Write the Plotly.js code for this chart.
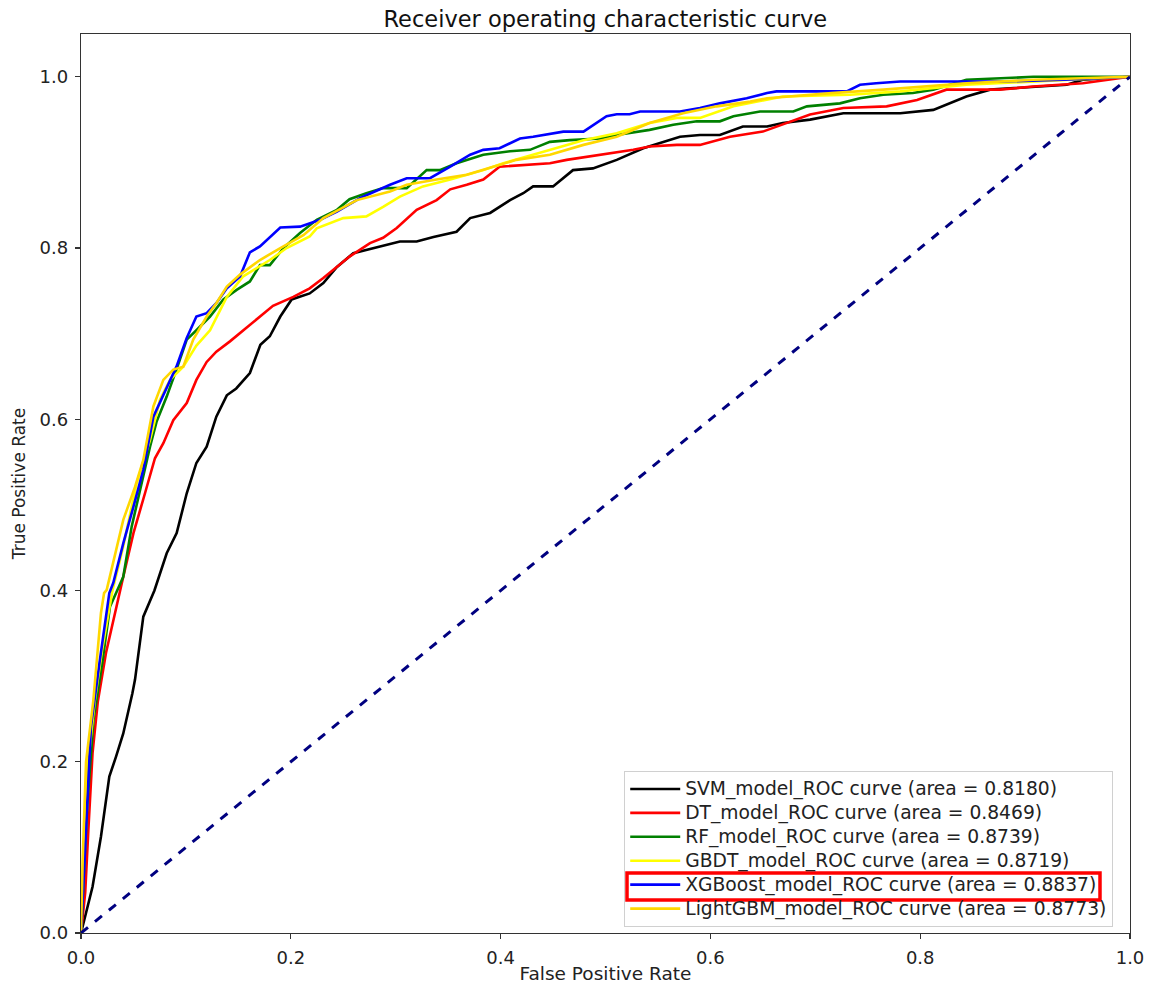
<!DOCTYPE html>
<html>
<head>
<meta charset="utf-8">
<script src="https://cdn.plot.ly/plotly-3.0.1.min.js"></script>
<style>html,body{margin:0;padding:0;background:#fff;}#chart{width:1158px;height:984px;}</style>
</head>
<body>
<div id="chart"></div>
<script>
// ---- data ----
const svmFpr = [0,0.011,0.019,0.027,0.0334,0.0403,0.049,0.0515,0.0594,0.07,0.0817,0.0912,0.1008,0.110,0.1198,0.129,0.139,0.148,0.161,0.171,0.180,0.190,0.2008,0.218,0.231,0.244,0.2596,0.2755,0.288,0.304,0.320,0.336,0.358,0.371,0.390,0.409,0.4216,0.431,0.450,0.469,0.488,0.5107,0.536,0.571,0.590,0.609,0.631,0.654,0.669,0.695,0.7267,0.781,0.8125,0.828,0.844,0.8666,0.9397,0.955,1];
const svmTpr = [0,0.054,0.1125,0.1826,0.206,0.233,0.28,0.296,0.3695,0.40,0.4435,0.467,0.5136,0.549,0.568,0.603,0.628,0.636,0.654,0.687,0.697,0.720,0.740,0.747,0.759,0.778,0.794,0.7987,0.802,0.8076,0.8076,0.813,0.819,0.835,0.841,0.856,0.864,0.872,0.872,0.891,0.893,0.903,0.9166,0.930,0.932,0.932,0.942,0.942,0.946,0.950,0.9575,0.9575,0.9614,0.969,0.977,0.985,0.9907,0.9965,1];

const dtFpr = [0,0.004,0.007,0.011,0.016,0.0238,0.0403,0.050,0.061,0.0705,0.0785,0.088,0.1008,0.110,0.1198,0.129,0.142,0.1547,0.1706,0.183,0.2024,0.218,0.231,0.244,0.256,0.2755,0.288,0.301,0.320,0.339,0.352,0.3677,0.3835,0.399,0.425,0.447,0.463,0.4948,0.5265,0.542,0.568,0.590,0.6187,0.650,0.673,0.695,0.7267,0.768,0.797,0.825,0.876,0.9076,0.955,1];
const dtTpr = [0,0.047,0.12,0.21,0.27,0.327,0.416,0.467,0.5136,0.5545,0.572,0.599,0.619,0.646,0.667,0.679,0.691,0.704,0.720,0.7325,0.743,0.753,0.765,0.778,0.790,0.8057,0.812,0.8235,0.8446,0.856,0.8686,0.874,0.880,0.895,0.897,0.899,0.903,0.909,0.9147,0.9186,0.9205,0.9205,0.930,0.936,0.946,0.956,0.9635,0.9655,0.973,0.985,0.985,0.9886,0.9925,1];

const rfFpr = [0,0.002,0.006,0.012,0.0207,0.0276,0.0334,0.0403,0.0483,0.0578,0.0658,0.072,0.0817,0.091,0.1008,0.110,0.123,0.1357,0.1484,0.161,0.1706,0.180,0.193,0.2088,0.2247,0.244,0.256,0.272,0.288,0.3105,0.3295,0.342,0.358,0.3835,0.409,0.428,0.447,0.466,0.4948,0.5107,0.5297,0.542,0.5646,0.587,0.609,0.622,0.6473,0.679,0.692,0.7235,0.7426,0.7648,0.793,0.8125,0.844,0.908,1];
const rfTpr = [0,0.05,0.15,0.25,0.319,0.381,0.397,0.416,0.4746,0.525,0.568,0.597,0.6265,0.658,0.693,0.704,0.720,0.740,0.7512,0.761,0.780,0.780,0.800,0.8175,0.833,0.8446,0.857,0.864,0.870,0.870,0.891,0.891,0.899,0.909,0.913,0.9147,0.924,0.926,0.928,0.932,0.936,0.938,0.944,0.948,0.948,0.954,0.9595,0.9595,0.9655,0.969,0.975,0.979,0.981,0.985,0.9965,1.0,1];

const gbdtFpr = [0,0.002,0.006,0.013,0.02,0.03,0.04,0.053,0.0658,0.0753,0.0848,0.0975,0.110,0.123,0.139,0.1547,0.180,0.196,0.218,0.2247,0.250,0.272,0.288,0.304,0.326,0.352,0.3835,0.4026,0.425,0.447,0.479,0.5107,0.542,0.568,0.590,0.622,0.669,0.733,0.781,0.844,1];
const gbdtTpr = [0,0.08,0.19,0.27,0.33,0.40,0.45,0.525,0.576,0.623,0.646,0.6615,0.686,0.704,0.743,0.767,0.786,0.800,0.8135,0.823,0.835,0.837,0.848,0.860,0.872,0.880,0.891,0.899,0.907,0.9147,0.926,0.934,0.946,0.952,0.952,0.9655,0.977,0.979,0.983,0.9907,1];

const xgbFpr = [0,0.0022,0.0095,0.018,0.0213,0.027,0.0308,0.0403,0.050,0.0594,0.069,0.0817,0.091,0.1008,0.110,0.1198,0.129,0.139,0.1516,0.161,0.1706,0.190,0.2088,0.228,0.244,0.266,0.2946,0.3105,0.3327,0.352,0.371,0.3835,0.399,0.4185,0.431,0.4598,0.479,0.501,0.5107,0.523,0.533,0.571,0.590,0.609,0.6346,0.654,0.663,0.730,0.7426,0.758,0.781,0.876,0.937,1];
const xgbTpr = [0,0.058,0.241,0.319,0.350,0.397,0.409,0.455,0.498,0.541,0.603,0.638,0.6615,0.695,0.720,0.724,0.7356,0.753,0.7667,0.795,0.802,0.824,0.825,0.833,0.8426,0.8584,0.874,0.8816,0.8816,0.895,0.909,0.9147,0.9166,0.928,0.930,0.936,0.936,0.954,0.9563,0.9563,0.9595,0.9595,0.9635,0.969,0.975,0.981,0.983,0.983,0.9907,0.9925,0.9945,0.9945,0.9965,1];

const lgbFpr = [0,0.0016,0.0048,0.0118,0.019,0.022,0.0245,0.0403,0.0515,0.0594,0.069,0.0785,0.088,0.0975,0.107,0.1198,0.129,0.139,0.1516,0.1706,0.190,0.212,0.231,0.2405,0.263,0.2946,0.3105,0.339,0.3677,0.393,0.415,0.447,0.479,0.5107,0.542,0.574,0.606,0.638,0.654,0.7155,0.765,0.844,0.908,1];
const lgbTpr = [0,0.085,0.2,0.272,0.3735,0.397,0.4007,0.4825,0.521,0.5525,0.615,0.646,0.658,0.6615,0.693,0.720,0.7356,0.755,0.769,0.786,0.800,0.815,0.835,0.841,0.856,0.866,0.874,0.880,0.8856,0.895,0.903,0.909,0.9205,0.930,0.946,0.9575,0.9655,0.971,0.975,0.981,0.985,0.9925,0.9965,1];

const diagX = [0, 1];
const diagY = [0, 1];

const seriesNames = [
  "SVM_model_ROC curve (area = 0.8180)",
  "DT_model_ROC curve (area = 0.8469)",
  "RF_model_ROC curve (area = 0.8739)",
  "GBDT_model_ROC curve (area = 0.8719)",
  "XGBoost_model_ROC curve (area = 0.8837)",
  "LightGBM_model_ROC curve (area = 0.8773)"
];
const seriesColors = ["#000000", "#ff0000", "#008000", "#ffff00", "#0000ff", "#ffd700"];
const xs = [svmFpr, dtFpr, rfFpr, gbdtFpr, xgbFpr, lgbFpr];
const ys = [svmTpr, dtTpr, rfTpr, gbdtTpr, xgbTpr, lgbTpr];

const tickVals = [0, 0.2, 0.4, 0.6, 0.8, 1.0];
const tickText = ["0.0", "0.2", "0.4", "0.6", "0.8", "1.0"];

const FONT = "DejaVu Sans, sans-serif";
const LEGEND_TEXT_PX = 18.7;

const traces = xs.map((x, i) => ({
  type: "scatter", mode: "lines", x: x, y: ys[i],
  name: '<span style="font-size:' + LEGEND_TEXT_PX + 'px">' + seriesNames[i] + '</span>',
  line: { color: seriesColors[i], width: 2.6 }
}));
traces.push({
  type: "scatter", mode: "lines", x: diagX, y: diagY, showlegend: false,
  line: { color: "#000080", width: 3, dash: "dash" }
});

const axisCommon = {
  showgrid: false, zeroline: false, showline: true, mirror: true,
  linecolor: "#333333", linewidth: 1.2,
  ticks: "outside", ticklen: 5, tickwidth: 1.2, tickcolor: "#333333",
  ticklabelstandoff: 3,
  tickvals: tickVals, ticktext: tickText,
  tickfont: { family: FONT, size: 18, color: "#222" }
};

const layout = {
  width: 1158, height: 984,
  margin: { l: 81, r: 28, t: 34, b: 51, pad: 0 },
  paper_bgcolor: "#ffffff", plot_bgcolor: "#ffffff",
  title: { text: "Receiver operating characteristic curve", x: 0.5227, xanchor: "center", y: 0.981, yanchor: "middle",
           font: { family: FONT, size: 22.5, color: "#111" } },
  xaxis: Object.assign({}, axisCommon, { range: [0, 1],
    title: { text: "False Positive Rate", standoff: 3, font: { family: FONT, size: 18.5, color: "#222" } } }),
  yaxis: Object.assign({}, axisCommon, { range: [0, 1.05],
    title: { text: "True Positive Rate", standoff: 9, font: { family: FONT, size: 17, color: "#222" } } }),
  showlegend: true,
  legend: {
    x: 0.984, xanchor: "right", y: 0.0067, yanchor: "bottom",
    bgcolor: "rgba(255,255,255,0)", bordercolor: "#d0d0d0", borderwidth: 1,
    font: { family: FONT, size: 16.1, color: "#222" },
    itemwidth: 50,
    tracegroupgap: 0
  },
  shapes: [{
    type: "rect", xref: "paper", yref: "paper", layer: "above",
    x0: 0.5205, x1: 0.9714, y0: 0.0367, y1: 0.0667,
    line: { color: "#ff0000", width: 3.5 }, fillcolor: "rgba(0,0,0,0)"
  }]
};

Plotly.newPlot("chart", traces, layout, { displayModeBar: false, staticPlot: true });
</script>
</body>
</html>
